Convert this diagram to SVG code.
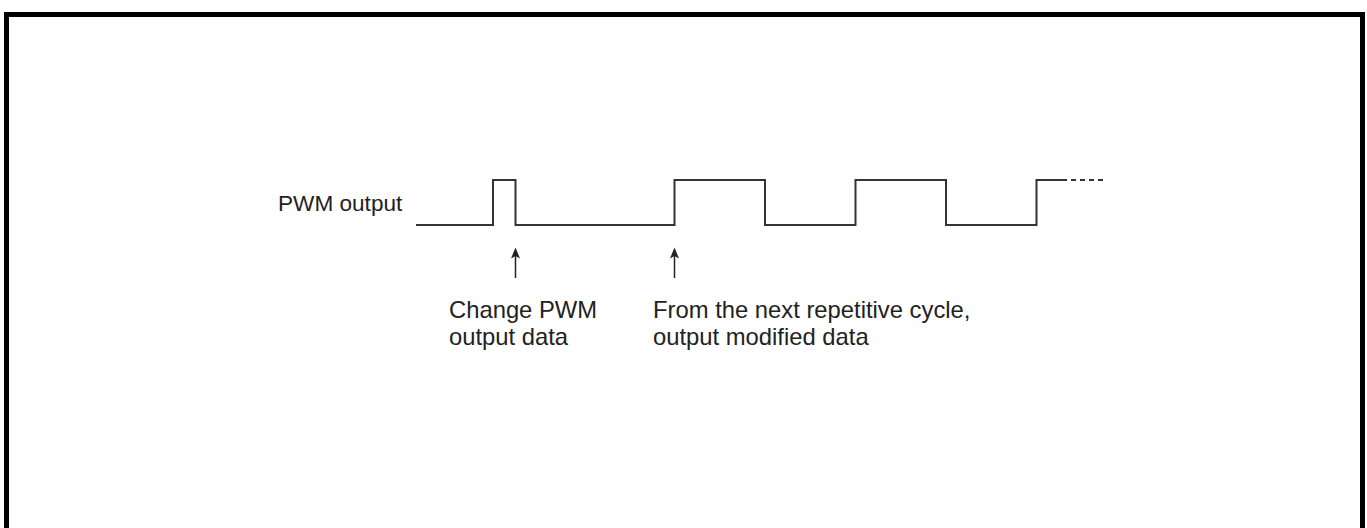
<svg xmlns="http://www.w3.org/2000/svg" width="1367" height="528" viewBox="0 0 1367 528">
<style>
.t{font-family:"Liberation Sans",Arial,sans-serif;font-size:23.8px;fill:#222}
.w{fill:none;stroke:#333;stroke-width:2;stroke-linejoin:miter}
.a{stroke:#222;stroke-width:1.5}
.h{fill:#222}
</style>
<rect width="1367" height="528" fill="#fff"/>
<rect x="6.5" y="14.5" width="1356" height="600" fill="none" stroke="#000" stroke-width="5"/>
<g id="label-pwm"><text class="t" x="278" y="211" style="font-size:22.6px">PWM output</text></g>
<g id="waveform">
<path class="w" d="M416,225 H493 V180 H515.5 V225 H674.5 V180 H765 V225 H855.5 V180 H946 V225 H1036.5 V180 H1062"/>
<path class="w" d="M1062,180 H1106" stroke-dasharray="5,4"/>
</g>
<g id="connectors">
<line class="a" x1="515.5" y1="278" x2="515.5" y2="255"/>
<path class="h" d="M515.5,247.5 L520,258.5 L515.5,256 L511,258.5 Z"/>
<line class="a" x1="674.5" y1="278" x2="674.5" y2="255"/>
<path class="h" d="M674.5,247.5 L679,258.5 L674.5,256 L670,258.5 Z"/>
</g>
<g id="note-change"><text class="t" x="449" y="318">Change PWM</text><text class="t" x="449" y="345">output data</text></g>
<g id="note-next"><text class="t" x="653" y="318">From the next repetitive cycle,</text><text class="t" x="653" y="345">output modified data</text></g>
</svg>
